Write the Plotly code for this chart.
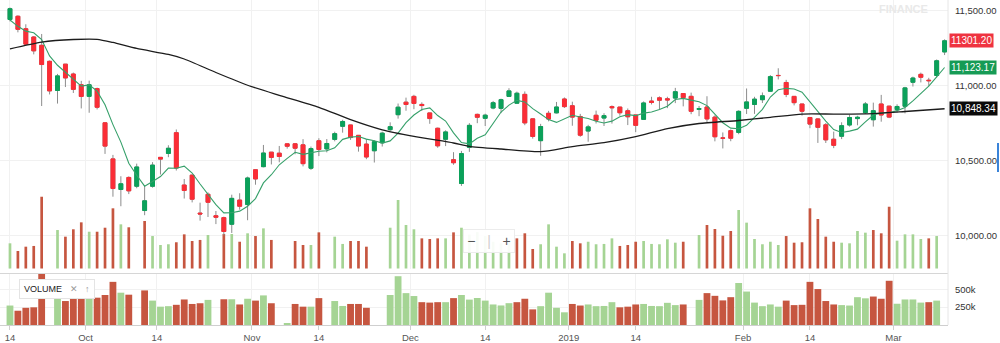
import plotly.graph_objects as go
import pandas as pd

# ---------------- data ----------------
dates = [
    "2018-09-14", "2018-09-17", "2018-09-18", "2018-09-19", "2018-09-21", "2018-09-24", "2018-09-25", "2018-09-26", "2018-09-27", "2018-09-28",
    "2018-10-01", "2018-10-03", "2018-10-04", "2018-10-05", "2018-10-08", "2018-10-09", "2018-10-10", "2018-10-11", "2018-10-12", "2018-10-15",
    "2018-10-16", "2018-10-17", "2018-10-19", "2018-10-22", "2018-10-23", "2018-10-24", "2018-10-25", "2018-10-26", "2018-10-29", "2018-10-30",
    "2018-10-31", "2018-11-01", "2018-11-02", "2018-11-05", "2018-11-06", "2018-11-07", "2018-11-09", "2018-11-12", "2018-11-13", "2018-11-14",
    "2018-11-15", "2018-11-16", "2018-11-19", "2018-11-20", "2018-11-21", "2018-11-22", "2018-11-26", "2018-11-27", "2018-11-28", "2018-11-29",
    "2018-11-30", "2018-12-03", "2018-12-04", "2018-12-05", "2018-12-06", "2018-12-07", "2018-12-10", "2018-12-11", "2018-12-12", "2018-12-13",
    "2018-12-14", "2018-12-17", "2018-12-18", "2018-12-19", "2018-12-20", "2018-12-21", "2018-12-24", "2018-12-26", "2018-12-27", "2018-12-28",
    "2018-12-31", "2019-01-02", "2019-01-03", "2019-01-04", "2019-01-07", "2019-01-08", "2019-01-09", "2019-01-10", "2019-01-11", "2019-01-14",
    "2019-01-15", "2019-01-16", "2019-01-17", "2019-01-18", "2019-01-21", "2019-01-22", "2019-01-23", "2019-01-24", "2019-01-25", "2019-01-28",
    "2019-01-29", "2019-01-30", "2019-01-31", "2019-02-01", "2019-02-04", "2019-02-05", "2019-02-06", "2019-02-07", "2019-02-08", "2019-02-11",
    "2019-02-12", "2019-02-14", "2019-02-15", "2019-02-18", "2019-02-19", "2019-02-20", "2019-02-21", "2019-02-22", "2019-02-25", "2019-02-26",
    "2019-02-27", "2019-02-28", "2019-03-01", "2019-03-05", "2019-03-06", "2019-03-07", "2019-03-08", "2019-03-11", "2019-03-12",
]

opens = [
    11443.5, 11464.95, 11381.55, 11326.65, 11271.3, 11164.4, 10969.95, 11145.55, 11079.8, 11008.1,
    10930.9, 10982.7, 10754.7, 10514.1, 10310.15, 10390.3, 10331.85, 10169.8, 10331.55, 10524.2,
    10550.15, 10688.7, 10339.7, 10405.85, 10152.6, 10278.15, 10135.05, 10122.35, 10078.1, 10239.4,
    10209.55, 10441.7, 10462.3, 10558.75, 10552.0, 10614.45, 10614.7, 10607.8, 10451.9, 10634.9,
    10580.6, 10644.0, 10731.25, 10740.1, 10670.95, 10612.65, 10568.3, 10621.45, 10708.75, 10808.7,
    10892.1, 10930.7, 10877.1, 10820.45, 10718.15, 10644.8, 10508.7, 10350.05, 10591.0, 10810.75,
    10784.5, 10853.2, 10850.9, 10930.55, 10885.2, 10944.25, 10780.9, 10635.45, 10817.9, 10820.95,
    10913.2, 10868.25, 10796.8, 10699.7, 10804.85, 10786.25, 10862.4, 10859.35, 10834.75, 10807.0,
    10777.55, 10899.65, 10920.85, 10914.85, 10919.35, 10949.8, 10931.05, 10844.05, 10859.75, 10792.45,
    10653.7, 10702.25, 10690.55, 10851.35, 10876.75, 10908.65, 10965.1, 11070.45, 11023.5, 10930.7,
    10879.9, 10790.0, 10780.55, 10741.0, 10645.0, 10665.0, 10740.0, 10782.7, 10822.0, 10775.0,
    10880.0, 10865.7, 10842.65, 10864.85, 11024.85, 11077.6, 11038.4, 11070.0, 11227.1,
]

highs = [
    11523.25, 11470.75, 11411.45, 11332.05, 11346.8, 11170.15, 11080.6, 11145.55, 11089.45, 11034.1,
    11035.65, 10989.05, 10754.7, 10540.65, 10398.35, 10397.6, 10482.35, 10335.95, 10492.45, 10526.3,
    10604.9, 10710.15, 10380.1, 10408.55, 10222.1, 10290.65, 10166.6, 10128.85, 10275.3, 10285.1,
    10396.0, 10441.9, 10606.95, 10558.8, 10600.25, 10616.45, 10619.55, 10645.5, 10596.25, 10651.6,
    10646.5, 10695.15, 10774.7, 10740.85, 10671.3, 10646.25, 10637.8, 10695.15, 10757.8, 10883.05,
    10922.45, 10941.2, 10890.95, 10821.05, 10722.65, 10704.55, 10558.85, 10567.15, 10752.2, 10815.75,
    10815.3, 10900.35, 10915.4, 10985.15, 10962.55, 10963.65, 10782.3, 10747.5, 10834.2, 10893.6,
    10923.55, 10895.35, 10814.05, 10741.05, 10835.95, 10818.45, 10870.4, 10859.35, 10850.15, 10808.0,
    10896.95, 10928.15, 10930.65, 10928.2, 10987.4, 10949.8, 10955.8, 10866.6, 10931.7, 10804.45,
    10690.35, 10710.2, 10838.05, 10983.45, 10927.9, 10956.7, 11072.6, 11118.1, 11041.1, 10930.7,
    10880.55, 10792.85, 10785.65, 10753.0, 10696.0, 10758.0, 10808.0, 10801.4, 10892.85, 10889.0,
    10940.7, 10865.7, 10877.95, 10994.3, 11062.3, 11089.05, 11054.6, 11176.6, 11310.95,
]

lows = [
    11430.55, 11357.8, 11268.95, 11210.9, 10866.45, 10943.6, 10882.85, 10993.05, 10953.35, 10850.3,
    10821.55, 10843.75, 10547.25, 10261.9, 10198.4, 10279.35, 10318.25, 10138.6, 10322.15, 10410.15,
    10525.3, 10436.45, 10249.6, 10224.0, 10102.35, 10126.7, 10079.3, 10004.55, 10020.35, 10175.35,
    10105.1, 10341.9, 10457.7, 10477.0, 10491.45, 10582.35, 10544.85, 10464.05, 10440.55, 10532.7,
    10557.5, 10631.15, 10688.8, 10640.85, 10562.35, 10512.0, 10489.75, 10596.35, 10699.85, 10782.35,
    10835.1, 10845.35, 10833.35, 10747.95, 10588.25, 10599.35, 10474.95, 10333.85, 10560.8, 10752.1,
    10733.15, 10844.85, 10819.1, 10928.0, 10880.05, 10738.65, 10649.25, 10534.55, 10764.45, 10817.15,
    10853.2, 10735.05, 10661.25, 10628.65, 10750.15, 10733.25, 10749.4, 10801.8, 10739.4, 10692.35,
    10777.55, 10876.9, 10844.65, 10852.2, 10885.75, 10864.15, 10811.95, 10798.65, 10756.45, 10630.95,
    10583.65, 10631.85, 10678.55, 10813.45, 10814.15, 10886.8, 10961.7, 11043.6, 10925.6, 10870.65,
    10802.45, 10718.7, 10620.4, 10620.0, 10585.65, 10646.0, 10729.0, 10738.0, 10813.0, 10729.3,
    10762.0, 10785.6, 10822.55, 10817.45, 10996.6, 11023.85, 10998.6, 11056.5, 11206.25,
]

closes = [
    11515.2, 11377.75, 11278.9, 11234.35, 11143.1, 10967.4, 11067.45, 11053.8, 10977.55, 10930.45,
    11008.3, 10858.25, 10599.25, 10316.45, 10348.05, 10301.05, 10460.1, 10234.65, 10472.5, 10512.5,
    10584.75, 10453.05, 10303.55, 10245.25, 10146.8, 10224.75, 10124.9, 10030.0, 10250.85, 10198.4,
    10386.6, 10380.45, 10553.0, 10524.0, 10530.0, 10598.4, 10585.2, 10482.2, 10582.5, 10576.3,
    10616.7, 10682.2, 10763.4, 10656.2, 10600.05, 10526.75, 10628.6, 10685.6, 10728.85, 10858.7,
    10876.75, 10883.75, 10869.5, 10782.9, 10601.15, 10693.7, 10488.45, 10549.15, 10737.6, 10791.55,
    10805.45, 10888.35, 10908.7, 10967.3, 10951.7, 10754.0, 10663.5, 10729.85, 10779.8, 10859.9,
    10862.55, 10792.5, 10672.25, 10727.35, 10771.8, 10802.15, 10855.15, 10821.6, 10794.95, 10737.6,
    10886.8, 10890.3, 10905.2, 10906.95, 10961.85, 10922.75, 10831.5, 10849.8, 10780.55, 10661.55,
    10652.2, 10651.8, 10830.95, 10893.65, 10912.25, 10934.35, 11062.45, 11069.4, 10943.6, 10888.8,
    10831.4, 10746.05, 10724.4, 10640.95, 10604.35, 10735.45, 10789.85, 10791.65, 10880.1, 10835.3,
    10806.65, 10792.5, 10863.5, 10987.45, 11053.0, 11058.2, 11035.4, 11168.05, 11301.2,
]
close_before_first = 11369.9

# volume in shares (None = no volume reported for that session)
volumes = [
    273000, 200000, 241000, 248000, 715000, None, 399000, 336000, 406000, 472000,
    383000, 383000, 421000, 605000, 453000, 425000, None, 485000, 342000, 257000,
    264000, 283000, 358000, 295000, 305000, 352000, None, 361000, 361000, 288000,
    368000, 342000, 415000, 305000, None, 25000, 295000, 257000, 257000, 377000,
    None, 336000, 267000, 295000, 295000, 241000, None, None, 421000, 684000,
    447000, 406000, 320000, 314000, 320000, 320000, 377000, 421000, 356000, 379000,
    342000, 288000, 274000, 306000, 320000, 368000, 219000, 264000, 453000, 241000,
    178000, 295000, 273000, 288000, 264000, 267000, 320000, 248000, 257000, 288000,
    295000, 267000, 264000, 311000, 279000, 288000, None, 352000, 447000, 409000,
    345000, 390000, 589000, 469000, 314000, 264000, 288000, 257000, 342000, 279000,
    283000, 605000, 504000, 336000, 288000, 279000, 273000, 390000, 374000, 399000,
    368000, 620000, 298000, 358000, 358000, 314000, 320000, 342000, None,
]

# short moving average (green line), one value per session
ma_short = [
    11439.96, 11397.69, 11365.85, 11355.22, 11309.86, 11200.30, 11138.24, 11093.22, 11041.86, 10999.33,
    11007.51, 10965.67, 10874.76, 10742.54, 10626.06, 10484.61, 10404.98, 10332.06, 10363.27, 10396.16,
    10452.90, 10451.49, 10465.27, 10419.82, 10346.68, 10274.68, 10209.05, 10154.34, 10155.46, 10165.78,
    10198.15, 10249.26, 10353.86, 10408.49, 10474.81, 10517.17, 10558.12, 10543.96, 10555.66, 10564.92,
    10568.58, 10587.98, 10644.22, 10658.96, 10663.71, 10645.72, 10635.00, 10619.44, 10633.97, 10685.70,
    10755.70, 10806.73, 10843.51, 10854.32, 10802.81, 10766.20, 10687.14, 10623.07, 10614.01, 10652.09,
    10674.44, 10754.42, 10826.33, 10872.27, 10904.30, 10894.01, 10849.04, 10813.27, 10775.77, 10757.41,
    10779.12, 10804.92, 10793.40, 10782.91, 10765.29, 10753.21, 10765.74, 10795.61, 10809.13, 10802.29,
    10819.22, 10826.25, 10842.97, 10865.37, 10910.22, 10917.41, 10905.65, 10894.57, 10869.29, 10809.23,
    10755.12, 10719.18, 10715.41, 10738.03, 10788.17, 10844.60, 10926.73, 10974.42, 10984.41, 10979.72,
    10959.13, 10895.85, 10826.85, 10766.32, 10709.43, 10690.24, 10699.00, 10712.45, 10760.28, 10806.47,
    10820.71, 10821.24, 10835.61, 10857.08, 10900.62, 10950.93, 10999.51, 11060.42, 11123.17,
]

# long moving average (black line), read at these sessions
ma_long_dates = [
    "2018-09-14", "2018-09-21", "2018-09-27", "2018-10-03", "2018-10-05", "2018-10-10", "2018-10-16", "2018-10-19",
    "2018-10-25", "2018-10-31", "2018-11-06", "2018-11-14", "2018-11-20", "2018-11-27", "2018-12-03", "2018-12-10",
    "2018-12-12", "2018-12-18", "2018-12-26", "2019-01-02", "2019-01-08", "2019-01-14", "2019-01-18", "2019-01-24",
    "2019-01-31", "2019-02-06", "2019-02-12", "2019-02-19", "2019-02-25", "2019-03-05", "2019-03-12",
]
ma_long_vals = [
    11248, 11293, 11310, 11311, 11290, 11250, 11210, 11180,
    11090, 11005, 10938, 10858, 10776, 10708, 10664, 10620,
    10598, 10580, 10562, 10596, 10622, 10662, 10716, 10750,
    10770, 10791, 10813, 10813, 10814, 10830, 10848.34,
]

tick_dates = ["2018-09-14", "2018-10-01", "2018-10-14", "2018-11-01", "2018-11-14", "2018-12-01",
              "2018-12-14", "2019-01-01", "2019-01-14", "2019-02-01", "2019-02-14", "2019-03-01"]
tick_labels = ["14", "Oct", "14", "Nov", "14", "Dec", "14", "2019", "14", "Feb", "14", "Mar"]

price_ticks = [10000, 10500, 11000, 11500]
vol_ticks = [250000, 500000]
vol_tick_labels = ["250k", "500k"]

# ---------------- styling ----------------
UP = "#0ba15a"
DOWN = "#fb2d36"
WICK = "#8c8c8c"
VOL_UP = "rgb(165,212,148)"
VOL_DOWN = "rgb(198,86,64)"
GRID = "#f1f1f1"
FONT = "Liberation Sans, Arial, sans-serif"

dt = pd.to_datetime(dates)
x = list(range(len(dates)))
date_index = {d: i for i, d in enumerate(dates)}


def tick_pos(d, label):
    ts = pd.Timestamp(d)
    i = int((dt < ts).sum())
    if label == "14" and i < len(dt) and dt[i] == ts:
        return i
    return i - 0.45


tickvals = [tick_pos(d, l) for d, l in zip(tick_dates, tick_labels)]

prev_closes = [close_before_first] + closes[:-1]
vol_colors = [VOL_UP if c >= p else VOL_DOWN for c, p in zip(closes, prev_closes)]
body_hi = [max(o, c) for o, c in zip(opens, closes)]
body_lo = [min(o, c) for o, c in zip(opens, closes)]

fig = go.Figure()

# volume drawn underneath the price pane
fig.add_trace(go.Bar(x=x, y=volumes, marker=dict(color=vol_colors, line=dict(width=0)),
                     width=0.34, xaxis="x", yaxis="y", hoverinfo="skip"))

# wicks
fig.add_trace(go.Candlestick(
    x=x, open=opens, high=highs, low=lows, close=closes, xaxis="x", yaxis="y3",
    increasing=dict(line=dict(color=WICK, width=1), fillcolor=WICK),
    decreasing=dict(line=dict(color=WICK, width=1), fillcolor=WICK),
    whiskerwidth=0, hoverinfo="skip"))
# bodies
fig.add_trace(go.Candlestick(
    x=x, open=opens, high=body_hi, low=body_lo, close=closes, xaxis="x", yaxis="y3",
    increasing=dict(line=dict(color=UP, width=1), fillcolor=UP),
    decreasing=dict(line=dict(color=DOWN, width=1), fillcolor=DOWN),
    whiskerwidth=0))

fig.add_trace(go.Scatter(x=x, y=ma_short, mode="lines", xaxis="x", yaxis="y3",
                         line=dict(color="#36a06a", width=1.1), hoverinfo="skip"))
fig.add_trace(go.Scatter(x=[date_index[d] for d in ma_long_dates], y=ma_long_vals, mode="lines",
                         xaxis="x", yaxis="y3", line=dict(color="#1c1c1c", width=1.3, shape="spline", smoothing=0.6),
                         hoverinfo="skip"))

# lower volume pane
fig.add_trace(go.Bar(x=x, y=volumes, marker=dict(color=vol_colors, line=dict(width=0)),
                     width=0.86, xaxis="x2", yaxis="y2", hoverinfo="skip"))

W, H = 1000, 343
PLOT_R = 948
PLOT_H = 325.0
main_bottom = (PLOT_H - 268.5) / PLOT_H
low_top = (PLOT_H - 274) / PLOT_H

xr = [-1.26, 118.43]

fig.update_layout(
    width=W, height=H,
    margin=dict(l=0, r=W - PLOT_R, t=0, b=H - PLOT_H),
    paper_bgcolor="white", plot_bgcolor="white",
    showlegend=False, barmode="overlay", boxgap=0.3,
    font=dict(family=FONT, size=9, color="#333"),
    xaxis=dict(domain=[0, 1], range=xr, anchor="y", tickvals=tickvals, showticklabels=False,
               showgrid=True, gridcolor=GRID, zeroline=False, showline=False, ticks="",
               rangeslider=dict(visible=False), fixedrange=True),
    xaxis2=dict(domain=[0, 1], range=xr, anchor="y2", matches="x", tickvals=tickvals, ticktext=tick_labels,
                showgrid=True, gridcolor=GRID, zeroline=False, showline=True, linecolor="#cfcfcf",
                ticks="outside", ticklen=4, tickcolor="#cfcfcf", tickfont=dict(size=9.5, color="#555"),
                rangeslider=dict(visible=False), fixedrange=True),
    yaxis=dict(domain=[main_bottom, 1], range=[34000, 2581600], visible=False, showgrid=False,
               zeroline=False, fixedrange=True),
    yaxis3=dict(overlaying="y", anchor="x", side="right", range=[9783.3, 11573.3],
                tickvals=price_ticks, tickformat=",.2f", showgrid=True, gridcolor=GRID,
                zeroline=False, showline=False, ticks="outside", ticklen=4, tickcolor="rgba(0,0,0,0)",
                tickfont=dict(size=9.5, color="#333"), fixedrange=True),
    yaxis2=dict(domain=[0, low_top], anchor="x2", side="right", range=[0, 715000],
                tickvals=vol_ticks, ticktext=vol_tick_labels, showgrid=True, gridcolor=GRID,
                zeroline=False, showline=False, ticks="outside", ticklen=4, tickcolor="rgba(0,0,0,0)",
                tickfont=dict(size=9.5, color="#333"), fixedrange=True),
)

# pane separators / borders
fig.add_shape(type="line", xref="paper", yref="paper", x0=0, x1=1,
              y0=(PLOT_H - 273.5) / PLOT_H, y1=(PLOT_H - 273.5) / PLOT_H,
              line=dict(color="#d6d6d6", width=1))
fig.add_shape(type="line", xref="paper", yref="paper", x0=1, x1=1, y0=0, y1=1,
              line=dict(color="#e6e6e6", width=1))
fig.add_shape(type="line", xref="paper", yref="paper", x0=998 / PLOT_R, x1=998 / PLOT_R,
              y0=(PLOT_H - 172) / PLOT_H, y1=(PLOT_H - 143) / PLOT_H,
              line=dict(color="#3a83d8", width=2))

# last-value tags on the price scale
tags = [
    (f"{closes[-1]:.2f}", closes[-1], "#ef3340"),
    (f"{ma_short[-1]:,.2f}", ma_short[-1], "#169b55"),
    (f"{ma_long_vals[-1]:,.2f}", ma_long_vals[-1], "#0a0a0a"),
]
for txt, val, col in tags:
    fig.add_annotation(text=txt, xref="paper", x=1, xanchor="left", xshift=1,
                       yref="y3", y=val, yanchor="middle", showarrow=False,
                       bgcolor=col, font=dict(color="white", size=10, family=FONT), borderpad=1)

# watermark (kept fully inside the page)
fig.add_annotation(text="<b>FINANCE</b>", xref="paper", yref="paper", x=903 / PLOT_R, y=1,
                   xanchor="center", yanchor="top", yshift=-1, showarrow=False,
                   font=dict(size=11, color="#e9e9e9", family=FONT))

# study label
fig.add_annotation(text='VOLUME   <span style="color:#9a9a9a">\u2715</span>   <span style="color:#9a9a9a">\u2191</span>',
                   xref="paper", yref="paper", x=57 / PLOT_R, y=(PLOT_H - 288.5) / PLOT_H,
                   xanchor="center", yanchor="middle", showarrow=False,
                   bgcolor="white", bordercolor="#e4e4e4", borderwidth=1, borderpad=4,
                   font=dict(size=9, color="#222", family=FONT))

# zoom control
fig.add_annotation(text='\u2212   <span style="color:#cfcfcf">|</span>   +',
                   xref="paper", yref="paper", x=488.5 / PLOT_R, y=(PLOT_H - 241) / PLOT_H,
                   xanchor="center", yanchor="middle", showarrow=False,
                   bgcolor="rgba(255,255,255,0.92)", bordercolor="#ececec", borderwidth=1, borderpad=3,
                   width=44, font=dict(size=14, color="#555", family=FONT))

fig.write_html("out.html")
